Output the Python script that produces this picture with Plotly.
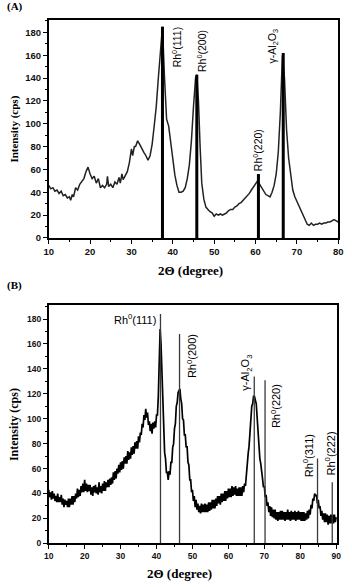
import plotly.graph_objects as go

# ---------------- Panel A data ----------------
a_theta = [10.0,10.5,11.0,11.5,12.0,12.5,13.0,13.5,14.0,14.5,15.0,15.3,15.7,16.0,16.5,17.0,17.5,18.0,18.5,19.0,
           19.5,20.0,20.5,21.0,21.5,22.0,22.5,23.0,23.5,24.0,24.2,24.5,25.0,25.5,26.0,26.5,27.0,27.3,27.7,28.0,
           28.5,29.0,29.5,30.0,30.3,30.7,31.0,31.5,32.0,32.5,33.0,33.5,34.0,34.5,35.0,35.5,36.0,36.5,37.0,37.5,
           38.0,38.5,39.0,39.5,40.0,40.5,41.0,41.5,42.0,42.5,43.0,43.5,44.0,44.5,45.0,45.5,45.8,46.2,46.6,47.0,
           47.5,48.0,48.5,49.0,49.5,50.0,50.5,51.0,51.5,52.0,52.5,53.0,53.5,54.0,54.5,55.0,55.5,56.0,56.5,57.0,
           57.5,58.0,58.5,59.0,59.5,60.0,60.5,61.0,61.5,62.0,62.5,63.0,63.5,64.0,64.5,65.0,65.5,66.0,66.5,67.0,
           67.5,68.0,68.5,69.0,69.5,70.0,70.5,71.0,71.5,72.0,72.5,73.0,73.5,74.0,74.5,75.0,75.5,76.0,76.5,77.0,
           77.5,78.0,78.5,79.0,79.5,80.0]
a_int = [46,43,44,41,42,39,41,37,38,35,36,33,38,36,44,42,47,50,52,58,
         62,56,52,54,48,52,44,46,44,47,54,45,47,44,49,47,53,48,56,51,
         54,58,66,78,72,80,80,85,82,78,75,72,68,72,82,98,115,140,165,185,
         140,104,98,82,68,55,46,40,40,41,44,52,64,85,115,140,143,120,80,48,
         34,27,25,23,22,19,21,20,21,20,21,22,24,25,25,27,28,30,31,33,
         35,37,39,42,45,48,50,47,44,41,38,37,36,40,46,56,75,110,160,140,
         95,70,55,42,36,32,27,23,20,16,12,11,13,11,12,12,13,12,13,13,
         14,14,15,16,15,14]
a_peak_pos = [37.5, 45.8, 60.7, 66.7]
a_peak_h = [185, 143, 56, 162]
a_labels = ["Rh<sup>0</sup>(111)", "Rh<sup>0</sup>(200)", "Rh<sup>0</sup>(220)", "γ-Al<sub>2</sub>O<sub>3</sub>"]
a_label_x = [40.8, 46.9, 60.5, 64.3]
a_label_y = [167, 164, 76.5, 168]

# ---------------- Panel B data (0.25 degree steps from 10 to 90) ----------------
b_start, b_step = 10.0, 0.25
b_int = [43,37,41,35,42,36,40,34,38,33,40,33,37,33,39,31,36,29,35,31,   # 10
         34,29,36,29,36,31,38,31,38,33,40,36,44,37,43,38,46,41,48,41,   # 15
         51,42,48,41,47,42,47,39,45,38,46,41,47,40,45,39,49,41,46,40,   # 20
         48,42,50,42,49,45,51,45,52,47,53,48,57,51,58,52,60,56,63,57,   # 25
         65,59,66,60,69,64,70,64,74,67,73,68,77,71,78,72,81,76,82,76,   # 30
         86,81,89,87,96,93,103,99,108,101,105,95,98,90,96,88,97,92,98,93,   # 35
         103,103,118,140,172,160,138,110,90,73,68,57,57,51,58,55,65,65,77,80,   # 40
         92,96,110,113,121,123,124,116,112,100,99,87,87,77,78,65,63,51,51,41,   # 45
         43,34,38,29,35,27,32,25,30,24,32,25,31,25,32,25,31,25,33,26,   # 50
         33,27,35,28,35,28,36,30,38,32,38,31,40,33,40,34,42,34,42,36,   # 55
         44,37,44,37,46,38,45,39,46,38,44,38,45,38,45,38,46,41,48,46,   # 60
         57,60,72,78,92,98,110,112,118,118,115,112,101,88,82,68,64,54,52,45,   # 65
         46,37,39,30,33,25,30,22,29,21,27,20,27,19,25,18,25,19,26,19,   # 70
         26,19,25,18,25,19,27,19,25,18,26,19,25,19,26,18,25,19,26,19,   # 75
         25,18,25,18,25,18,24,19,26,20,27,23,31,28,36,34,40,38,39,32,   # 80
         35,28,30,22,26,19,24,17,24,17,23,15,22,16,23,16,23,16,23,17,   # 85
         21]
b_theta = [b_start + b_step * i for i in range(len(b_int))]
b_peak_pos = [41.1, 46.4, 67.2, 70.2, 84.8, 88.9]
b_peak_h = [184, 168, 134, 131, 68, 49]
b_labels = ["Rh<sup>0</sup>(111)", "Rh<sup>0</sup>(200)", "γ-Al<sub>2</sub>O<sub>3</sub>",
            "Rh<sup>0</sup>(220)", "Rh<sup>0</sup>(311)", "Rh<sup>0</sup>(222)"]
b_label_x = [34.1, 49.7, 64.9, 73.2, 82.2, 88.4]
b_label_y = [180, 150.6, 137, 110, 70, 72.5]
b_label_angle = [0, -90, -90, -90, -90, -90]

y_ticks = [0, 20, 40, 60, 80, 100, 120, 140, 160, 180]


def sticks(pos, h):
    xs, ys = [], []
    for p, v in zip(pos, h):
        xs += [p, p, None]
        ys += [0, v, None]
    return xs, ys


W, H = 352, 587
fig = go.Figure()

# Panel A
fig.add_trace(go.Scatter(x=a_theta, y=a_int, mode="lines", xaxis="x", yaxis="y",
                         line=dict(color="#222222", width=1.5), showlegend=False))
sx, sy = sticks(a_peak_pos, a_peak_h)
fig.add_trace(go.Scatter(x=sx, y=sy, mode="lines", xaxis="x", yaxis="y",
                         line=dict(color="#000000", width=3), showlegend=False))

# Panel B
fig.add_trace(go.Scatter(x=b_theta, y=b_int, mode="lines", xaxis="x2", yaxis="y2",
                         line=dict(color="#000000", width=1.7), showlegend=False))
sx, sy = sticks(b_peak_pos, b_peak_h)
fig.add_trace(go.Scatter(x=sx, y=sy, mode="lines", xaxis="x2", yaxis="y2",
                         line=dict(color="#3a3a3a", width=1.3), showlegend=False))

tickfontA = dict(family="Liberation Sans, Arial", size=9.5, color="#111", weight="bold")
tickfontB = dict(family="Liberation Sans, Arial", size=8.5, color="#111", weight="bold")

def xax(domain, rng, dtick, font, anchor):
    return dict(domain=domain, range=rng, anchor=anchor, showgrid=False, zeroline=False,
                showline=True, linecolor="black", linewidth=1.5, mirror=True,
                ticks="outside", ticklen=4, tickwidth=1.2, tickcolor="black",
                tick0=10, dtick=dtick, tickfont=font,
                minor=dict(ticks="outside", ticklen=2, tickwidth=1, tickcolor="black", dtick=dtick / 2))

def yax(domain, font, anchor):
    return dict(domain=domain, range=[0, 191], anchor=anchor, showgrid=False, zeroline=False,
                showline=True, linecolor="black", linewidth=1.5, mirror=True,
                ticks="outside", ticklen=4, tickwidth=1.2, tickcolor="black",
                tickvals=y_ticks, tickfont=font,
                minor=dict(ticks="outside", ticklen=2, tickwidth=1, tickcolor="black", dtick=10))

fig.update_layout(
    width=W, height=H, margin=dict(l=0, r=0, t=0, b=0),
    paper_bgcolor="white", plot_bgcolor="white",
    xaxis=xax([45 / W, 343 / W], [10, 80], 10, tickfontA, "y"),
    yaxis=yax([1 - 240 / H, 1 - 20 / H], tickfontA, "x"),
    xaxis2=xax([45 / W, 342 / W], [10, 90.3], 10, tickfontB, "y2"),
    yaxis2=yax([1 - 548 / H, 1 - 308 / H], tickfontB, "x2"),
)

ann = []
labfont_a = dict(family="Liberation Sans, Arial", size=10.5, color="black")
for t, x, y in zip(a_labels, a_label_x, a_label_y):
    ann.append(dict(text=t, x=x, y=y, xref="x", yref="y", showarrow=False,
                    xanchor="center", yanchor="middle", textangle=-90, font=labfont_a))
labfont_b = dict(family="Liberation Sans, Arial", size=11, color="black")
for t, x, y, ang in zip(b_labels, b_label_x, b_label_y, b_label_angle):
    ann.append(dict(text=t, x=x, y=y, xref="x2", yref="y2", showarrow=False,
                    xanchor="center", yanchor="middle", textangle=ang, font=labfont_b))

serif_b = dict(family="Liberation Serif, Times New Roman", size=12, color="black", weight="bold")

def paper_text(text, px, py, font, angle=0, xanchor="center"):
    return dict(text=text, x=px / W, y=1 - py / H, xref="paper", yref="paper",
                xanchor=xanchor, yanchor="middle", textangle=angle, showarrow=False, font=font)

ann.append(paper_text("(A)", 0, 7, dict(serif_b, size=11), xanchor="left"))
ann.append(paper_text("(B)", 0, 288, dict(serif_b, size=11), xanchor="left"))
ann.append(paper_text("Intensity (cps)", 10, 130, dict(serif_b, size=11), angle=-90))
ann.append(paper_text("Intensity (cps)", 10, 428, dict(serif_b, size=12), angle=-90))
ann.append(paper_text("2Θ (degree)", 191, 273, dict(serif_b, size=13)))
ann.append(paper_text("2Θ (degree)", 180, 578, dict(serif_b, size=13)))
fig.update_layout(annotations=ann)

fig.write_html("out.html", config={"displayModeBar": False},
               post_script="document.body.style.margin='0';")
